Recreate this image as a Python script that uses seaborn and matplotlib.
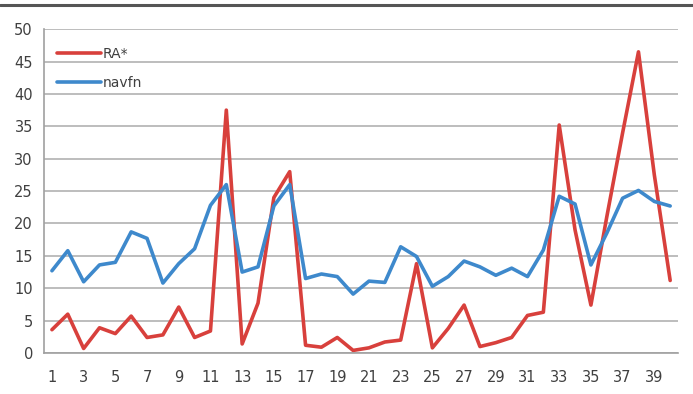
import matplotlib
matplotlib.use("Agg")
import matplotlib.pyplot as plt
from matplotlib.lines import Line2D
import seaborn as sns
import pandas as pd

# <--- data --->
runs = list(range(1, 41))
ra_star = [3.6, 6.0, 0.7, 3.9, 3.0, 5.7, 2.4, 2.8, 7.1, 2.4,
           3.4, 37.5, 1.4, 7.7, 24.0, 28.0, 1.2, 0.9, 2.4, 0.4,
           0.8, 1.7, 2.0, 13.8, 0.8, 3.8, 7.4, 1.0, 1.6, 2.4,
           5.8, 6.3, 35.2, 19.0, 7.4, 21.0, 34.0, 46.5, 27.5, 11.2]
navfn = [12.7, 15.8, 11.0, 13.6, 14.0, 18.7, 17.7, 10.8, 13.8, 16.1,
         22.8, 26.0, 12.5, 13.3, 22.7, 26.0, 11.5, 12.2, 11.8, 9.1,
         11.1, 10.9, 16.4, 14.9, 10.3, 11.8, 14.2, 13.3, 12.0, 13.1,
         11.8, 15.9, 24.2, 23.0, 13.6, 18.5, 23.9, 25.1, 23.4, 22.7]
series_names = ["RA*", "navfn"]
colors = ["#D8403C", "#3E89CC"]

df = pd.concat([
    pd.DataFrame({"run": runs, "value": ra_star, "method": series_names[0]}),
    pd.DataFrame({"run": runs, "value": navfn, "method": series_names[1]}),
])

sns.set_style("white")
plt.rcParams["font.family"] = ["DejaVu Sans"]

fig = plt.figure(figsize=(6.93, 3.94), dpi=100)
ax = fig.add_axes([0.0635, 0.104, 0.915, 0.822])

sns.lineplot(data=df, x="run", y="value", hue="method",
             palette=dict(zip(series_names, colors)),
             linewidth=2.6, ax=ax, legend=False)

# grid + axes like the spreadsheet look
ax.set_xlim(0.5, 40.5)
ax.set_ylim(0, 50)
ax.set_yticks(range(0, 51, 5))
ax.yaxis.grid(True, color="#B8B8B8", linewidth=1.3)
ax.set_axisbelow(True)
ax.set_xticks(range(1, 41, 2))
ax.set_xticks([x + 0.5 for x in range(0, 41)], minor=True)
ax.tick_params(axis="x", which="major", length=0, pad=12, labelsize=10.5, labelcolor="#404040")
ax.tick_params(axis="x", which="minor", length=4, color="#999999", direction="out")
ax.tick_params(axis="y", length=4, color="#999999", labelsize=10.5, labelcolor="#404040", pad=4)
ax.set_xlabel("")
ax.set_ylabel("")
for side in ["top", "right"]:
    ax.spines[side].set_visible(False)
for side in ["left", "bottom"]:
    ax.spines[side].set_color("#A0A0A0")
    ax.spines[side].set_linewidth(1.2)

handles = [Line2D([], [], color=c, linewidth=2.6) for c in colors]
ax.legend(handles, series_names, loc="upper left", frameon=False,
          bbox_to_anchor=(0.0, 0.985), handlelength=3.2, handletextpad=0.1,
          labelspacing=1.1, fontsize=10, labelcolor="#404040")

# dark rule across the top of the picture
fig.add_artist(Line2D([0, 1], [0.988, 0.988], color="#555555", linewidth=2.2,
                      transform=fig.transFigure))

fig.savefig("out.png", dpi=100)
